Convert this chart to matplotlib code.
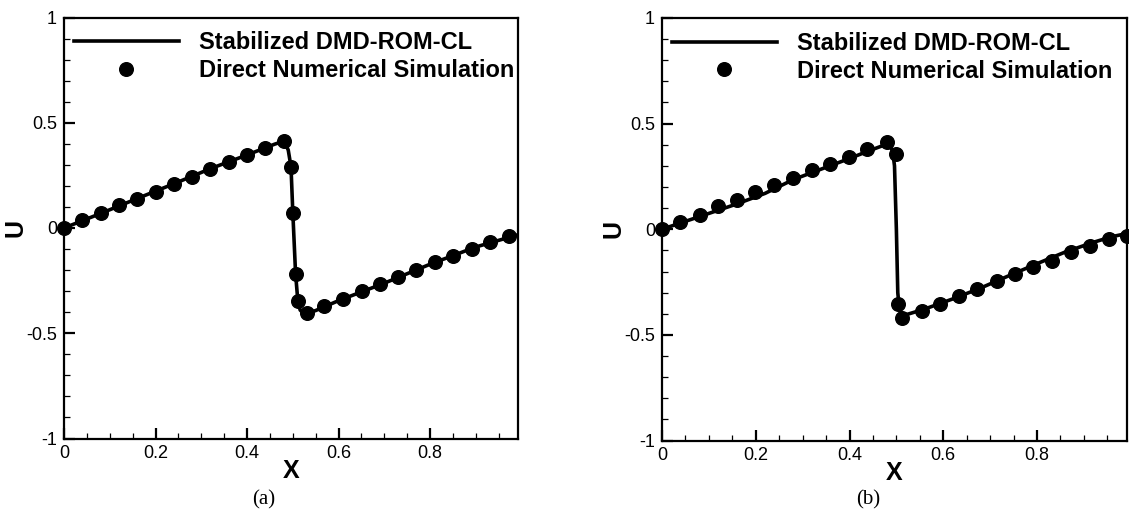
#!/usr/bin/env python3
"""Burgers shock profile: stabilized DMD-ROM-CL vs DNS, two panels (a) and (b)."""

import matplotlib
matplotlib.use("Agg")
import matplotlib.pyplot as plt
import matplotlib.ticker as mticker


# ---------------------------------------------------------------------------
# Data
# ---------------------------------------------------------------------------

# panel (a)
dns_x_a = [0.0, 0.04, 0.08, 0.12, 0.16, 0.20, 0.24, 0.28, 0.32, 0.36, 0.40, 0.44, 0.48,
           0.496, 0.500, 0.506, 0.511, 0.530, 0.569, 0.609, 0.651, 0.691, 0.730,
           0.770, 0.811, 0.851, 0.891, 0.931, 0.972]
dns_u_a = [0.0, 0.037, 0.069, 0.107, 0.140, 0.172, 0.210, 0.242, 0.282, 0.315, 0.347, 0.382, 0.413,
           0.291, 0.072, -0.217, -0.348, -0.404, -0.372, -0.337, -0.301, -0.266, -0.234,
           -0.198, -0.163, -0.131, -0.098, -0.066, -0.039]

rom_x_a = [0.0, 0.08, 0.16, 0.24, 0.32, 0.40, 0.46, 0.481, 0.490, 0.496, 0.500, 0.506,
           0.511, 0.516, 0.526, 0.55, 0.60, 0.70, 0.80, 0.90, 0.992]
rom_u_a = [0.0, 0.069, 0.140, 0.210, 0.282, 0.347, 0.398, 0.413, 0.370, 0.291, 0.072, -0.217,
           -0.348, -0.390, -0.410, -0.392, -0.345, -0.262, -0.172, -0.090, -0.032]

# panel (b)
dns_x_b = [0.0, 0.039, 0.080, 0.120, 0.159, 0.199, 0.239, 0.280, 0.319, 0.358, 0.399, 0.438, 0.479,
           0.499, 0.504, 0.513, 0.554, 0.593, 0.634, 0.673, 0.714, 0.753, 0.792,
           0.833, 0.872, 0.913, 0.953, 0.993]
dns_u_b = [0.0, 0.034, 0.069, 0.108, 0.140, 0.174, 0.208, 0.243, 0.279, 0.310, 0.342, 0.381, 0.413,
           0.356, -0.353, -0.421, -0.385, -0.353, -0.318, -0.283, -0.247, -0.211, -0.179,
           -0.148, -0.110, -0.077, -0.046, -0.030]

rom_x_b = [0.0, 0.04, 0.10, 0.16, 0.22, 0.28, 0.34, 0.40, 0.44, 0.47, 0.485, 0.492, 0.496,
           0.500, 0.503, 0.506, 0.510, 0.52, 0.56, 0.62, 0.68, 0.74, 0.80, 0.86, 0.92,
           0.96, 0.992]
rom_u_b = [0.0, 0.030, 0.075, 0.120, 0.170, 0.235, 0.285, 0.335, 0.370, 0.395, 0.400, 0.370, 0.300,
           0.0, -0.300, -0.370, -0.400, -0.405, -0.378, -0.330, -0.278, -0.220, -0.163, -0.108,
           -0.062, -0.035, -0.020]

X_TICKS = [0, 0.2, 0.4, 0.6, 0.8]
Y_TICKS = [-1, -0.5, 0, 0.5, 1]
PANEL_TAGS = ["(a)", "(b)"]


# ---------------------------------------------------------------------------
# Plot
# ---------------------------------------------------------------------------

plt.rcParams["font.family"] = ["Liberation Sans", "DejaVu Sans"]

W, H = 1129, 514
fig = plt.figure(figsize=(W / 100, H / 100), dpi=100)
fig.patch.set_facecolor("white")

# axes boxes in pixels: (left, top, right, bottom)
boxes = [(64, 17.5, 518, 438.5), (662, 18, 1127, 440.5)]
tag_x = [264, 868]


def fmt(v, _pos):
    return f"{v:g}"


panels = [(dns_x_a, dns_u_a, rom_x_a, rom_u_a), (dns_x_b, dns_u_b, rom_x_b, rom_u_b)]

for i, (dx, du, rx, ru) in enumerate(panels):
    l, t, r, b = boxes[i]
    ax_h = b - t
    ax = fig.add_axes([l / W, 1 - b / H, (r - l) / W, ax_h / H])

    ax.plot(rx, ru, color="black", linewidth=2.6, zorder=2,
            label="Stabilized DMD-ROM-CL")
    ax.plot(dx, du, linestyle="None", marker="o", markersize=9.8,
            color="black", zorder=3, label="Direct Numerical Simulation",
            clip_on=False)

    ax.set_xlim(0, 0.992)
    ax.set_ylim(-1, 1)
    ax.set_xticks(X_TICKS)
    ax.set_yticks(Y_TICKS)
    ax.xaxis.set_minor_locator(mticker.MultipleLocator(0.05))
    ax.yaxis.set_minor_locator(mticker.MultipleLocator(0.1))
    ax.xaxis.set_major_formatter(mticker.FuncFormatter(fmt))
    ax.yaxis.set_major_formatter(mticker.FuncFormatter(fmt))

    ax.tick_params(which="both", direction="in", top=False, right=False,
                   labelsize=13, pad=5)
    ax.tick_params(which="major", length=8, width=1.6)
    ax.tick_params(which="minor", length=4, width=0.9)
    for sp in ax.spines.values():
        sp.set_linewidth(1.6)

    ax.set_xlabel("X", fontsize=18, fontweight="bold")
    ax.set_ylabel("U", fontsize=18, fontweight="bold")
    ax.xaxis.set_label_coords(0.5, -21 / ax_h)
    ax.yaxis.set_label_coords(-36 / (r - l), 0.5)

    ax.legend(loc="upper left", bbox_to_anchor=(0.0, 1 - 4 / ax_h), frameon=False,
              prop={"weight": "bold", "size": 17},
              handlelength=4.45, handletextpad=0.85, numpoints=1,
              labelspacing=0.2, borderaxespad=0.22, borderpad=0.2)

    fig.text(tag_x[i] / W, 1 - 500 / H, PANEL_TAGS[i], ha="center", va="center",
             fontsize=15, family=["Liberation Serif", "DejaVu Serif"])

fig.savefig("out.png", dpi=100, facecolor="white")
